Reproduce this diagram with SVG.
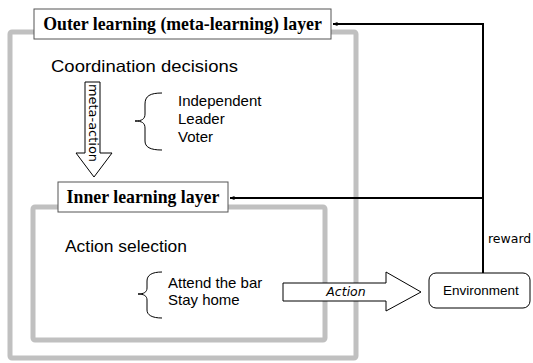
<svg xmlns="http://www.w3.org/2000/svg" width="533" height="363" viewBox="0 0 533 363">
<defs>
<style>
.layer{fill:none;stroke:#c0c0c0;stroke-width:5;stroke-linejoin:round}
.title{fill:#fff;stroke:#555;stroke-width:1}
.tt{font-family:"Liberation Serif",serif;font-weight:bold;font-size:17.8px;fill:#000}
.lbl{font-family:"Liberation Sans",Arial,sans-serif;fill:#000}
.hand{font-family:"DejaVu Sans",sans-serif;font-size:12.5px;fill:#000}
.brace{fill:none;stroke:#000;stroke-width:1}
.blk{fill:#fff;stroke:#000;stroke-width:1;stroke-linejoin:miter}
.fb{fill:none;stroke:#000;stroke-width:2}
</style>
<marker id="ah" viewBox="0 0 10 10" refX="9" refY="5" markerWidth="5" markerHeight="5" orient="auto" markerUnits="userSpaceOnUse">
<path d="M0,1 L10,5 L0,9 Z" fill="#000"/>
</marker>
</defs>

<g id="outer-layer">
<rect class="layer" x="10" y="32" width="346" height="326" rx="2"/>
<g id="outer-title">
<rect class="title" x="34" y="9" width="297" height="30"/>
<text class="tt" x="182.5" y="30" text-anchor="middle">Outer learning (meta-learning) layer</text>
</g>
<text class="lbl" x="51" y="72" font-size="16.5" textLength="187" lengthAdjust="spacingAndGlyphs">Coordination decisions</text>
<g id="meta-options">
<path class="brace" d="M162,93 C150,93 145,96 145,104 L145,114 C145,119 142,121 135,121 C142,121 145,123 145,128 L145,141 C145,147 150,150 162,150"/>
<text class="lbl" x="178" y="106" font-size="15">Independent</text>
<text class="lbl" x="178" y="124" font-size="15">Leader</text>
<text class="lbl" x="178" y="142" font-size="15">Voter</text>
</g>
</g>

<g id="inner-layer">
<rect class="layer" x="33" y="207" width="292" height="133" rx="2"/>
<g id="inner-title">
<rect class="title" x="58" y="182" width="170" height="30"/>
<text class="tt" x="143" y="203" text-anchor="middle">Inner learning layer</text>
</g>
<text class="lbl" x="65" y="252" font-size="16.5" textLength="122" lengthAdjust="spacingAndGlyphs">Action selection</text>
<g id="action-options">
<path class="brace" d="M162,272 C152,272 147,275 147,281 L147,288 C147,292 144,294 138,294 C144,294 147,296 147,300 L147,310 C147,315 152,318 162,318"/>
<text class="lbl" x="168" y="288" font-size="15">Attend the bar</text>
<text class="lbl" x="168" y="305" font-size="15">Stay home</text>
</g>
</g>

<g id="environment">
<rect fill="#fff" stroke="#000" stroke-width="1" x="429" y="273" width="101" height="35" rx="7"/>
<text class="lbl" x="443" y="295" font-size="13.5">Environment</text>
</g>

<g id="connectors">
<g id="meta-action">
<path class="blk" d="M85,82 L100,82 L100,153 L112,153 L94,177 L76,153 L85,153 Z"/>
<text class="hand" font-size="12" transform="translate(89,84) rotate(90)" textLength="78" lengthAdjust="spacingAndGlyphs">meta-action</text>
</g>
<g id="action">
<path class="blk" d="M283,283 L386,283 L386,272 L421,292 L386,311 L386,301 L283,301 Z"/>
<text class="hand" x="346" y="296" text-anchor="middle" font-style="italic">Action</text>
</g>
<g id="reward">
<path class="fb" d="M483,273 L483,24 L333,24" marker-end="url(#ah)"/>
<path class="fb" d="M483,198 L230,198" marker-end="url(#ah)"/>
<text class="hand" x="488" y="243">reward</text>
</g>
</g>
</svg>
